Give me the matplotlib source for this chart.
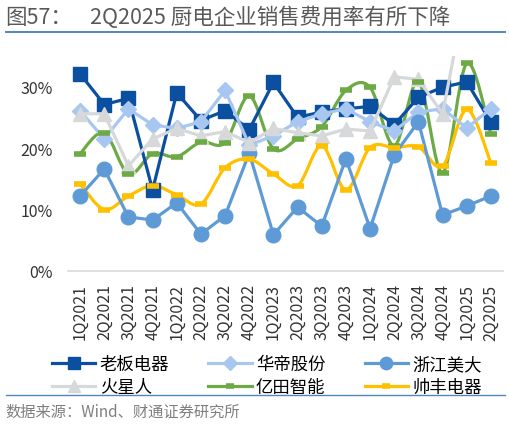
import numpy as np
import matplotlib
matplotlib.use('Agg')
from matplotlib import pyplot as plt
from matplotlib.path import Path
from matplotlib.patches import PathPatch
from matplotlib.lines import Line2D

plt.rcParams['font.family'] = ['Noto Sans CJK SC', 'DejaVu Sans']

quarters = ['1Q2021', '2Q2021', '3Q2021', '4Q2021', '1Q2022', '2Q2022',
            '3Q2022', '4Q2022', '1Q2023', '2Q2023', '3Q2023', '4Q2023',
            '1Q2024', '2Q2024', '3Q2024', '4Q2024', '1Q2025', '2Q2025']

# sales expense ratio, %
robam = [32.1, 27.1, 28.1, 13.2, 29.0, 24.5, 26.1, 23.0, 30.7, 25.0, 25.9, 26.4,
         26.8, 23.8, 28.3, 29.9, 30.8, 24.2]
vatti = [26.1, 21.5, 26.4, 23.8, 23.2, 24.3, 29.4, 20.5, 22.0, 24.3, 25.6, 26.4,
         24.3, 22.8, 25.9, 26.4, 23.3, 26.4]
meida = [12.2, 16.6, 8.8, 8.3, 11.1, 6.0, 9.0, 19.2, 5.9, 10.4, 7.3, 18.3,
         6.9, 18.9, 24.3, 9.1, 10.6, 12.2]
marssenger = [25.6, 25.6, 17.1, 21.5, 23.2, 22.0, 22.7, 20.9, 23.2, 22.5, 22.0, 23.1,
              22.8, 31.6, 31.2, 25.6, 46.0, 44.0]
entive = [19.1, 22.5, 15.8, 19.1, 18.6, 21.0, 20.9, 28.5, 19.9, 21.5, 23.5, 29.4,
          29.9, 20.4, 30.8, 16.0, 33.8, 22.3]
sanfer = [14.2, 10.0, 12.2, 13.9, 12.4, 10.9, 16.8, 18.2, 15.8, 13.9, 20.4, 13.2,
          20.1, 20.1, 20.2, 17.1, 26.3, 17.6]

names = ['老板电器', '华帝股份', '浙江美大', '火星人', '亿田智能', '帅丰电器']


def smooth_path(x, y):
    # Bezier segments in the style of Excel's smoothed lines
    pts = np.column_stack([x, y]).astype(float)
    ext = np.vstack([pts[0], pts, pts[-1]])
    verts = [pts[0]]
    codes = [Path.MOVETO]
    for i in range(1, len(ext) - 2):
        p0, p1, p2, p3 = ext[i - 1], ext[i], ext[i + 1], ext[i + 2]
        c1 = p1 + (p2 - p0) / 6
        c2 = p2 - (p3 - p1) / 6
        verts += [c1, c2, p2]
        codes += [Path.CURVE4] * 3
    return Path(verts, codes)


fig = plt.figure(figsize=(5.1, 4.27), dpi=100)
ax = fig.add_axes([68 / 510, 1 - 272 / 427, 435 / 510, 215 / 427])
x = np.arange(len(quarters))

lw = 2.3
handles = []
straight = [
    (robam, '#0B4FA0', 's', 9.5, names[0]),
    (vatti, '#A7C7F0', 'D', 8, names[1]),
    (meida, '#5E9BD6', 'o', 10.5, names[2]),
    (marssenger, '#D6D8DA', '^', 9.5, names[3]),
]
for vals, col, mk, ms, name in straight:
    ax.plot(x, vals, color=col, lw=lw, marker=mk, ms=ms, mec=col, mfc=col,
            solid_joinstyle='round')
    handles.append(Line2D([], [], color=col, lw=lw, marker=mk, ms=ms * 0.85,
                          mfc=col, mec=col))

smoothed = [
    (entive, '#6DAA45', names[4]),
    (sanfer, '#FFC000', names[5]),
]
for vals, col, name in smoothed:
    ax.add_patch(PathPatch(smooth_path(x, vals), facecolor='none', edgecolor=col,
                           lw=lw, capstyle='round'))
    ax.plot(x, vals, linestyle='none', marker='_', ms=8, mew=4, color=col)
    handles.append(Line2D([], [], color=col, lw=lw, marker='_', ms=6, mew=4))

ax.set_xlim(-0.5, len(quarters) - 0.5)
ax.set_ylim(0, 35)
ax.set_yticks([0, 10, 20, 30])
ax.set_yticklabels([f'{v}%' for v in [0, 10, 20, 30]])
ax.set_xticks(x)
ax.set_xticklabels(quarters, rotation=90)
ax.tick_params(axis='both', length=0, labelsize=11.5, colors='#333333')
ax.tick_params(axis='y', pad=11)
ax.tick_params(axis='x', pad=9)
for side in ['left', 'right', 'top']:
    ax.spines[side].set_visible(False)
ax.spines['bottom'].set_color('#D9D9D9')
ax.spines['bottom'].set_linewidth(1.2)

# legend order: fill row by row
order = [0, 3, 1, 4, 2, 5]
fig.legend([handles[i] for i in order], [names[i] for i in order],
           ncol=3, loc='upper left', bbox_to_anchor=(45 / 510, 1 - 349 / 427),
           frameon=False, fontsize=12.5, handlelength=2.5, handletextpad=0.25,
           columnspacing=2.25, labelspacing=0.3, borderaxespad=0)

# title and source
fig.text(5 / 510, 1 - 18 / 427, '图57：', fontsize=15.5, color='#595959', va='center')
fig.text(90 / 510, 1 - 18 / 427, '2Q2025 厨电企业销售费用率有所下降', fontsize=15.5,
         color='#595959', va='center')
fig.add_artist(Line2D([6 / 510, 505 / 510], [1 - 33 / 427, 1 - 33 / 427],
                      color='#4F86C6', lw=1.4))
fig.add_artist(Line2D([6 / 510, 505 / 510], [1 - 396 / 427, 1 - 396 / 427],
                      color='#4F86C6', lw=1.0))
fig.text(5 / 510, 1 - 412 / 427, '数据来源：Wind、财通证券研究所', fontsize=11,
         color='#7F7F7F', va='center')

fig.savefig('out.png', dpi=100)
